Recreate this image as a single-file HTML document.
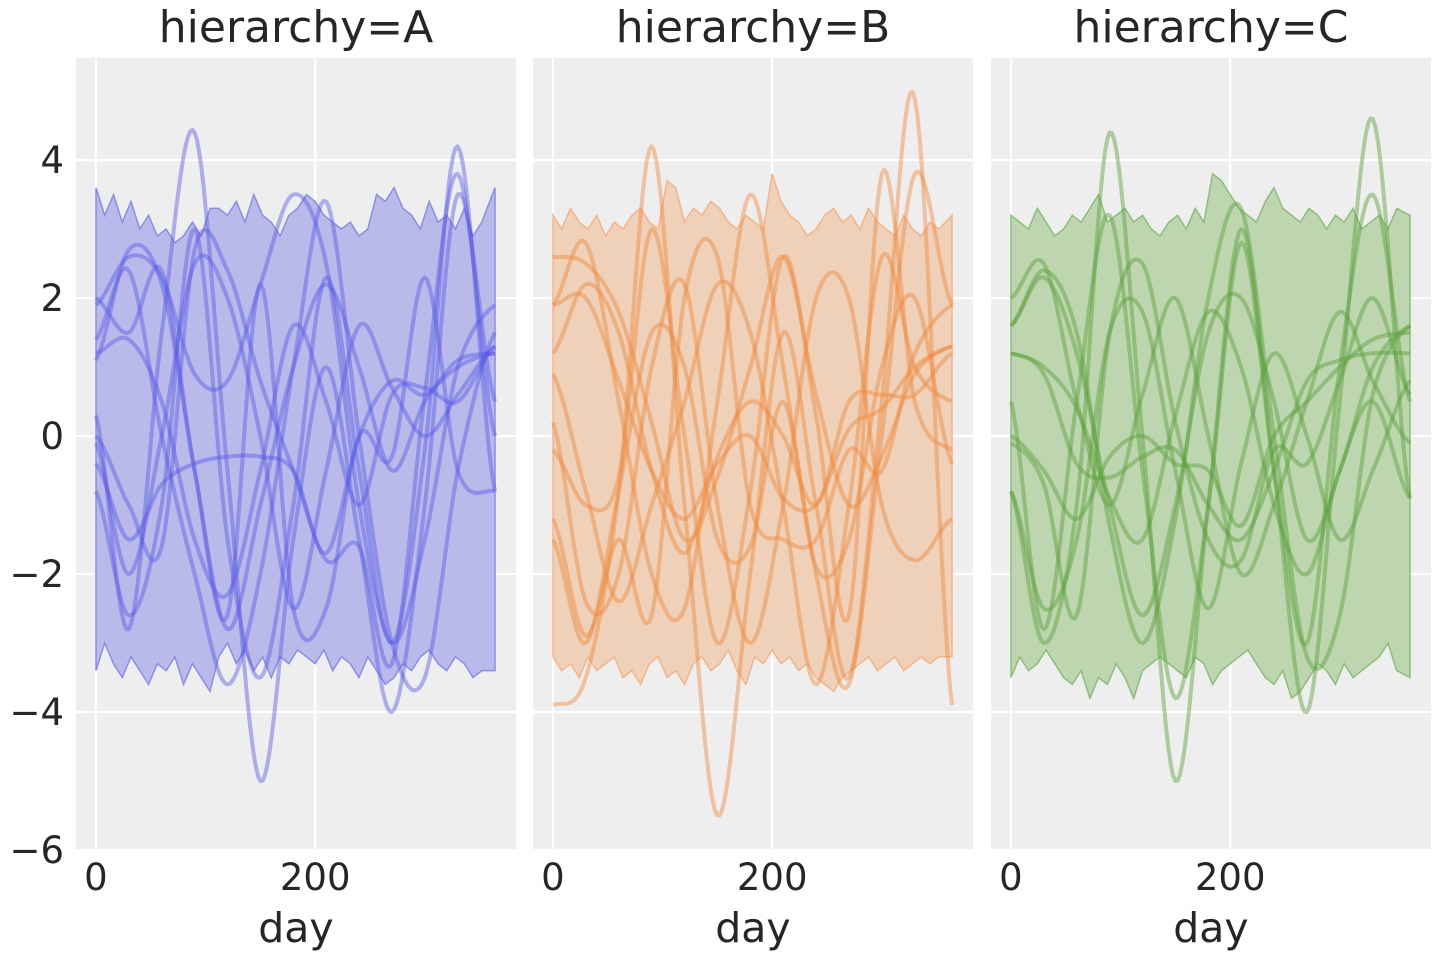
<!DOCTYPE html>
<html><head><meta charset="utf-8"><title>hierarchy chart</title>
<style>
html,body{margin:0;padding:0;background:#fff;}
svg{display:block;}
text{font-family:"DejaVu Sans","Liberation Sans",sans-serif;fill:#262626;}
</style></head>
<body>
<svg id="chart" width="1440" height="960" viewBox="0 0 1440 960" xmlns="http://www.w3.org/2000/svg"></svg>
<script>
// ---- data ----
const panelNames = ["A","B","C"];
const xTicks = [0, 200];
const yTicks = [4, 2, 0, -2, -4, -6];
const yTickLabels = ["4","2","0","\u22122","\u22124","\u22126"];
const curveDays = [0,30,60,90,120,150,180,210,240,270,300,330,364];
const bandDays = [0,8,16,24,32,40,48,56,64,72,80,88,96,104,112,120,128,136,144,152,160,168,176,184,192,200,208,216,224,232,240,248,256,264,272,280,288,296,304,312,320,328,336,344,352,364];

const upperA = [3.6,3.2,3.5,3.1,3.4,3.0,3.2,2.9,3.0,2.8,2.9,3.1,2.9,3.3,3.3,3.2,3.4,3.1,3.5,3.2,3.1,2.9,3.2,3.3,3.5,3.4,3.2,3.1,3.0,3.1,2.9,3.0,3.5,3.4,3.6,3.3,3.2,3.0,3.4,3.1,3.2,3.0,3.3,2.9,3.1,3.6];
const lowerA = [-3.4,-3.0,-3.3,-3.5,-3.2,-3.4,-3.6,-3.3,-3.4,-3.2,-3.6,-3.3,-3.5,-3.7,-3.2,-3.0,-3.3,-3.1,-3.4,-3.2,-3.5,-3.2,-3.3,-3.1,-3.2,-3.3,-3.1,-3.4,-3.2,-3.3,-3.5,-3.2,-3.4,-3.6,-3.5,-3.3,-3.4,-3.2,-3.1,-3.3,-3.4,-3.2,-3.3,-3.5,-3.4,-3.4];
const upperB = [3.2,3.0,3.3,3.1,3.0,3.2,2.9,3.1,3.0,3.2,3.3,3.1,3.0,3.7,3.6,3.1,3.3,3.2,3.4,3.3,3.1,3.0,3.2,3.1,3.0,3.8,3.4,3.2,3.1,2.9,3.0,3.2,3.3,3.1,3.2,3.0,3.3,3.1,3.0,2.9,3.2,3.0,2.9,3.1,3.0,3.2];
const lowerB = [-3.2,-3.4,-3.3,-3.5,-3.2,-3.4,-3.3,-3.2,-3.5,-3.4,-3.6,-3.3,-3.2,-3.5,-3.4,-3.6,-3.3,-3.2,-3.4,-3.3,-3.1,-3.4,-3.6,-3.2,-3.3,-3.1,-3.3,-3.2,-3.4,-3.3,-3.5,-3.6,-3.7,-3.5,-3.4,-3.3,-3.2,-3.4,-3.3,-3.2,-3.4,-3.3,-3.2,-3.3,-3.2,-3.2];
const upperC = [3.2,3.1,3.0,3.3,3.1,2.9,3.0,3.2,3.1,3.3,3.5,3.1,3.2,3.3,3.1,3.2,3.0,2.9,3.1,3.2,3.0,3.3,3.1,3.8,3.7,3.5,3.3,3.2,3.1,3.4,3.6,3.3,3.2,3.1,3.3,3.2,3.0,3.2,3.1,3.3,3.0,3.1,3.2,3.0,3.3,3.2];
const lowerC = [-3.5,-3.2,-3.4,-3.3,-3.1,-3.3,-3.5,-3.6,-3.4,-3.8,-3.5,-3.6,-3.3,-3.5,-3.8,-3.4,-3.3,-3.2,-3.3,-3.4,-3.5,-3.2,-3.3,-3.6,-3.4,-3.3,-3.2,-3.1,-3.3,-3.5,-3.6,-3.4,-3.8,-3.7,-3.5,-3.3,-3.4,-3.6,-3.3,-3.5,-3.4,-3.3,-3.2,-3.0,-3.4,-3.5];

const curvesA = [
 [1.9,2.6,2.3,0.9,0.8,2.2,3.5,2.5,-1.0,-3.0,-1.5,1.0,1.9],
 [-0.8,-2.6,-1.0,3.0,-1.5,-3.5,-1.0,2.3,-0.5,-3.0,-0.2,4.2,-0.8],
 [0.3,-2.8,1.5,4.4,-0.5,-5.0,-1.5,1.0,-1.5,-4.0,-1.0,3.5,0.5],
 [1.1,2.7,2.2,-0.5,-2.8,-1.0,1.0,2.2,1.0,-0.5,0.5,1.0,1.2],
 [1.4,2.4,0.0,-2.0,-3.6,-2.0,1.0,3.4,0.0,-3.0,-3.5,-0.5,1.5],
 [0.0,-1.0,-1.6,2.7,2.4,0.8,-0.5,-1.8,-1.6,-3.3,0.6,3.8,0.0],
 [1.2,1.4,0.5,-1.5,-2.3,-0.5,1.6,0.5,-1.0,0.6,0.7,0.5,1.3],
 [-0.4,-1.5,-0.7,-0.4,-0.3,-0.3,-0.5,-1.7,0.0,0.8,0.6,1.1,1.2],
 [2.0,1.5,2.4,-0.5,-2.6,2.2,-2.5,-2.5,0.0,-0.3,2.3,-0.5,-0.8],
 [-0.1,-2.0,0.0,2.5,2.0,0.0,-2.5,-0.5,1.6,0.7,0.0,0.6,1.3]
];
const curvesB = [
 [2.6,2.5,1.8,0.2,-1.5,-0.6,1.0,2.6,0.6,-1.0,-0.3,0.9,1.3],
 [-3.9,-3.5,-0.8,4.2,-1.0,-5.5,-2.0,1.5,-1.0,-3.5,0.5,4.9,-3.9],
 [1.9,2.8,0.5,-2.0,-2.5,0.5,3.5,1.0,-2.0,-3.6,0.0,3.8,1.9],
 [1.2,2.2,1.5,-0.5,-1.7,-0.3,0.5,0.0,-1.0,0.5,0.6,0.6,1.2],
 [0.2,-2.4,-2.0,1.0,2.2,-1.0,-3.0,-1.0,2.0,2.0,-1.0,-1.8,-1.2],
 [-0.2,-1.0,-0.6,3.0,0.0,-3.0,-0.8,2.6,0.3,-2.6,3.8,0.5,-0.2],
 [-1.2,-2.9,-1.5,-2.6,2.0,2.6,-1.0,-1.5,-1.5,-0.2,-0.5,1.2,1.9],
 [1.9,2.0,0.8,-0.5,-1.2,-0.4,0.0,-0.9,-1.0,0.1,0.4,1.0,1.3],
 [-1.5,-3.0,-0.8,1.5,1.0,-1.5,-1.6,0.5,-1.9,-1.5,1.0,2.0,-0.4],
 [0.9,-0.8,-2.4,-1.0,0.5,2.2,1.5,-1.0,-3.6,-1.0,2.6,1.0,0.5]
];
const curvesC = [
 [1.6,2.3,1.2,-1.0,-2.6,-1.0,1.5,2.0,0.5,-1.5,-0.5,1.0,1.6],
 [-0.8,-3.0,-1.0,4.4,0.0,-5.0,-1.0,3.0,-0.5,-4.0,0.5,4.6,-0.9],
 [0.5,-2.8,0.5,3.2,-0.5,-3.8,-1.0,2.8,-0.5,-3.0,1.0,3.5,0.5],
 [1.2,0.9,-0.4,-0.6,-0.3,-0.2,-1.0,-1.5,-0.5,0.8,1.1,1.2,1.2],
 [1.6,2.4,1.5,-1.3,-3.0,-1.2,2.0,3.3,0.0,-3.2,-2.6,0.6,1.6],
 [-0.1,-0.7,-2.6,1.5,2.5,0.2,-1.5,-1.8,-0.2,-0.4,0.8,2.0,0.6],
 [1.2,1.0,0.4,-0.9,-1.5,0.3,1.8,1.0,-1.0,-2.0,-0.5,0.5,-0.9],
 [0.0,-0.5,-1.2,-0.3,0.0,-0.4,-0.5,-1.3,0.0,0.5,1.0,1.4,1.5],
 [2.0,2.5,0.5,-1.0,0.6,2.0,0.0,-2.0,-1.0,0.5,1.8,0.8,-0.1],
 [-0.8,-2.5,-1.5,1.5,1.8,-0.5,-2.5,-0.4,1.2,0.0,-1.5,-0.5,0.8]
];
const bands = [[upperA,lowerA],[upperB,lowerB],[upperC,lowerC]];
const curves = [curvesA, curvesB, curvesC];
const lineColors = ["#5a5ae6","#f08a3c","#5aa03a"];
const fillColors = ["#b9baea","#efd0b8","#bdd6b0"];
const bandEdge = ["#8c8ce8","#f3b48a","#8dbd7a"];

// ---- layout ----
const panelLeft = [76, 533, 991];
const panelW = 440, panelTop = 58, panelBottom = 850;
const xMin = -18.2, xMax = 383.2, yMin = -6.0, yMax = 5.48;
const NS = "http://www.w3.org/2000/svg";
const svg = document.getElementById("chart");
function mk(tag, attrs, parent){ const e=document.createElementNS(NS,tag); for(const k in attrs) e.setAttribute(k,attrs[k]); (parent||svg).appendChild(e); return e; }
function yScale(v){ return panelBottom - (v - yMin)/(yMax - yMin)*(panelBottom-panelTop); }
function catmull(days, vals){
  const pts=[];
  for(let i=0;i<days.length-1;i++){
    const p0=vals[Math.max(i-1,0)], p1=vals[i], p2=vals[i+1], p3=vals[Math.min(i+2,vals.length-1)];
    const n=14;
    for(let j=0;j<n;j++){
      const t=j/n, t2=t*t, t3=t2*t;
      const v=0.5*((2*p1)+(-p0+p2)*t+(2*p0-5*p1+4*p2-p3)*t2+(-p0+3*p1-3*p2+p3)*t3);
      pts.push([days[i]+(days[i+1]-days[i])*t, v]);
    }
  }
  pts.push([days[days.length-1], vals[vals.length-1]]);
  return pts;
}

panelNames.forEach((name, pi) => {
  const L = panelLeft[pi];
  const xs = d => L + (d - xMin)/(xMax - xMin)*panelW;
  const g = mk("g", {});
  
  
  const bg = mk("rect", {x:L, y:panelTop, width:panelW, height:panelBottom-panelTop, fill:"#eeeeee"}, g);
  
  
  xTicks.forEach(t => {
    const l = mk("line", {x1:xs(t), x2:xs(t), y1:panelTop, y2:panelBottom, stroke:"#fff", "stroke-width":2.2}, g);
    
    
  });
  yTicks.forEach(t => {
    const l = mk("line", {x1:L, x2:L+panelW, y1:yScale(t), y2:yScale(t), stroke:"#fff", "stroke-width":2.2}, g);
    
    
  });
  const [up, lo] = bands[pi];
  let dPath = "";
  up.forEach((v,i)=>{ dPath += (i? "L":"M") + xs(bandDays[i]).toFixed(1) + "," + yScale(v).toFixed(1); });
  for(let i=lo.length-1;i>=0;i--) dPath += "L" + xs(bandDays[i]).toFixed(1) + "," + yScale(lo[i]).toFixed(1);
  dPath += "Z";
  const band = mk("path", {d:dPath, fill:fillColors[pi], stroke:bandEdge[pi], "stroke-width":1.5}, g);
  
  
  curves[pi].forEach((c) => {
    const pts = catmull(curveDays, c);
    const d = pts.map((p,i)=>(i?"L":"M")+xs(p[0]).toFixed(1)+","+yScale(p[1]).toFixed(1)).join("");
    const path = mk("path", {d:d, fill:"none", stroke:lineColors[pi], "stroke-opacity":0.45, "stroke-width":4, "stroke-linejoin":"round"}, g);
    
    
  });
  const title = mk("text", {x:L+panelW/2, y:42, "text-anchor":"middle", "font-size":44}, g);
  title.textContent = "hierarchy=" + name;
  
  
  xTicks.forEach(t => {
    const tx = mk("text", {x:xs(t), y:890, "text-anchor":"middle", "font-size":37}, g);
    tx.textContent = String(t);
    
    
  });
  const xl = mk("text", {x:L+panelW/2, y:942, "text-anchor":"middle", "font-size":41}, g);
  xl.textContent = "day";
  
  
  if (pi === 0) {
    yTicks.forEach((t, ti) => {
      const ty = mk("text", {x:64, y:yScale(t)+13, "text-anchor":"end", "font-size":37}, g);
      ty.textContent = yTickLabels[ti];
      
      
    });
  }
});
</script>
</body></html>
